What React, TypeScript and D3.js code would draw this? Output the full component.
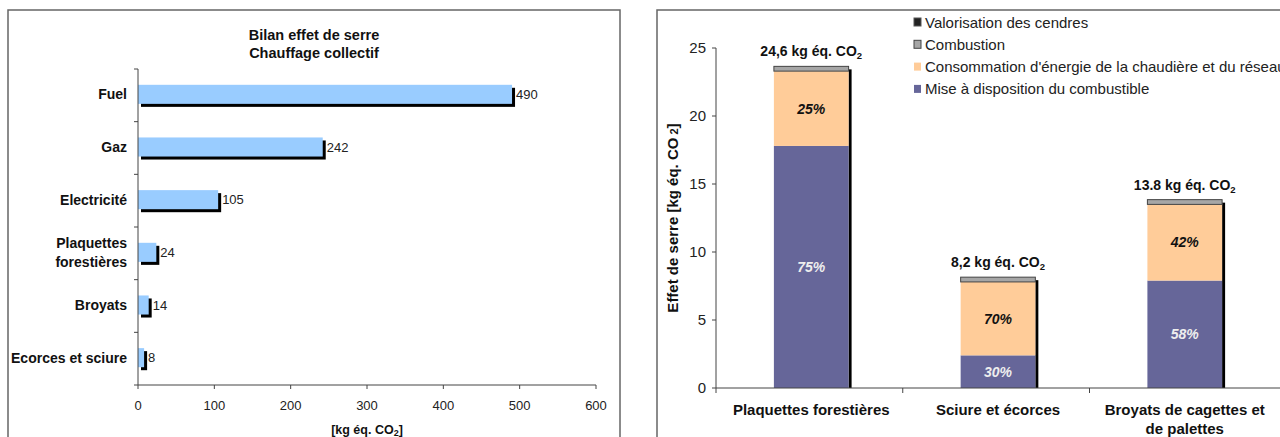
import React from "react";
import * as d3 from "d3";

// ---- Left chart data ----
const leftTitle = ["Bilan effet de serre", "Chauffage collectif"];
const leftCategories = ["Fuel", "Gaz", "Electricité", "Plaquettes forestières", "Broyats", "Ecorces et sciure"];
const leftValues = [490, 242, 105, 24, 14, 8];
const leftTicks = [0, 100, 200, 300, 400, 500, 600];

// ---- Right chart data ----
const rightCategories = ["Plaquettes forestières", "Sciure et écorces", "Broyats de cagettes et de palettes"];
const rightCategoryLines = [["Plaquettes forestières"], ["Sciure et écorces"], ["Broyats de cagettes et", "de palettes"]];
const miseValues = [17.8, 2.4, 7.9];
const consoValues = [5.5, 5.4, 5.6];
const combustionValues = [0.35, 0.35, 0.35];
const valorisationValues = [0, 0, 0];
const miseLabels = ["75%", "30%", "58%"];
const consoLabels = ["25%", "70%", "42%"];
const totalLabels = ["24,6", "8,2", "13.8"];
const rightTicks = [0, 5, 10, 15, 20, 25];
const seriesKeys = ["mise", "conso", "combustion", "valorisation"];
const legendItems = [
  { key: "valorisation", label: "Valorisation des cendres" },
  { key: "combustion", label: "Combustion" },
  { key: "conso", label: "Consommation d'énergie de la chaudière et du réseau" },
  { key: "mise", label: "Mise à disposition du combustible" },
];

const FONT = "'Liberation Sans', Arial, Helvetica, sans-serif";
const colors: Record<string, string> = {
  mise: "#666699",
  conso: "#ffcc99",
  combustion: "#a6a6a6",
  valorisation: "#222222",
};
const strokes: Record<string, string> = {
  mise: "none",
  conso: "none",
  combustion: "#444",
  valorisation: "#555",
};

function LeftChart() {
  const x = d3.scaleLinear().domain([0, 600]).range([138, 596]);
  const y = d3.scaleBand<string>().domain(leftCategories).range([69, 385]).paddingInner(0.6).paddingOuter(0.3);
  const bw = y.bandwidth();
  const step = y.step();
  const x0 = x(0);
  return (
    <g>
      <rect x={8} y={10} width={612} height={440} fill="white" stroke="#666" strokeWidth={1.5} />
      {leftTitle.map((t, i) => (
        <text key={t} x={314} y={40 + i * 17.5} textAnchor="middle" fontFamily={FONT} fontWeight="bold" fontSize={14.5} fill="#111">
          {t}
        </text>
      ))}
      {/* bars */}
      {leftCategories.map((c, i) => {
        const yy = y(c)!;
        const w = x(leftValues[i]) - x0;
        return (
          <g key={c}>
            <rect x={x0 + 3} y={yy + 3} width={w} height={bw - 2} fill="#000" />
            <rect x={x0} y={yy} width={w} height={bw - 2} fill="#99ccff" />
            <text x={x0 + w + 4} y={yy + (bw - 2) / 2 + 4.5} fontFamily={FONT} fontSize={13} fill="#222">
              {leftValues[i]}
            </text>
          </g>
        );
      })}
      {/* y axis */}
      <line x1={x0} x2={x0} y1={69} y2={385} stroke="#444" strokeWidth={1} />
      {d3.range(leftCategories.length + 1).map((i) => (
        <line key={i} x1={x0 - 4} x2={x0} y1={69 + i * step} y2={69 + i * step} stroke="#444" />
      ))}
      {leftCategories.map((c) => {
        const yc = y(c)! + (bw - 2) / 2;
        const words = c === "Plaquettes forestières" ? ["Plaquettes", "forestières"] : [c];
        return (
          <text key={c} x={127} textAnchor="end" fontFamily={FONT} fontWeight="bold" fontSize={14} fill="#111">
            {words.map((w, j) => (
              <tspan key={w} x={127} y={yc + 5 + (j - (words.length - 1) / 2) * 19}>
                {w}
              </tspan>
            ))}
          </text>
        );
      })}
      {/* x axis */}
      <line x1={x0} x2={596} y1={385} y2={385} stroke="#444" />
      {leftTicks.map((t) => (
        <g key={t}>
          <line x1={x(t)} x2={x(t)} y1={385} y2={389} stroke="#444" />
          <text x={x(t)} y={410} textAnchor="middle" fontFamily={FONT} fontSize={13} fill="#222">
            {t}
          </text>
        </g>
      ))}
      <text x={367} y={434} textAnchor="middle" fontFamily={FONT} fontWeight="bold" fontSize={12.5} fill="#111">
        [kg éq. CO<tspan fontSize={9} dy={2}>2</tspan>
        <tspan dy={-2}>]</tspan>
      </text>
    </g>
  );
}

function RightChart() {
  const x = d3.scaleBand<string>().domain(rightCategories).range([716, 1280]).paddingInner(0.6).paddingOuter(0.31);
  const y = d3.scaleLinear().domain([0, 25]).range([388, 48]);
  const bw = x.bandwidth();
  const rows = rightCategories.map((c, i) => ({
    cat: c,
    mise: miseValues[i],
    conso: consoValues[i],
    combustion: combustionValues[i],
    valorisation: valorisationValues[i],
  }));
  const stack = d3.stack<any>().keys(seriesKeys)(rows);
  const step = x.step();
  return (
    <g>
      <rect x={657} y={10} width={640} height={440} fill="white" stroke="#666" strokeWidth={1.5} />
      {/* shadows */}
      {rows.map((r, i) => {
        const top = d3.max(stack, (s) => s[i][1])!;
        const bx = x(r.cat)!;
        return <rect key={"sh" + i} x={bx + bw} y={y(top) + 3} width={3} height={y(0) - y(top) - 3} fill="#000" />;
      })}
      {stack.map((s) =>
        s.map((d, i) => {
          const h = y(d[0]) - y(d[1]);
          if (h <= 0.01) return null;
          return (
            <rect
              key={s.key + i}
              x={x(rows[i].cat)!}
              y={y(d[1])}
              width={bw}
              height={h}
              fill={colors[s.key]}
              stroke={strokes[s.key]}
              strokeWidth={strokes[s.key] === "none" ? 0 : 1}
            />
          );
        })
      )}
      {/* percent labels */}
      {rows.map((r, i) => {
        const cx = x(r.cat)! + bw / 2;
        const m = stack[0][i];
        const co = stack[1][i];
        return (
          <g key={"pl" + i} fontFamily={FONT} fontWeight="bold" fontStyle="italic" fontSize={14}>
            <text x={cx} y={(y(m[0]) + y(m[1])) / 2 + 5} textAnchor="middle" fill="#eeeeee">
              {miseLabels[i]}
            </text>
            <text x={cx} y={(y(co[0]) + y(co[1])) / 2 + 5} textAnchor="middle" fill="#111">
              {consoLabels[i]}
            </text>
          </g>
        );
      })}
      {/* total labels */}
      {rows.map((r, i) => {
        const top = d3.max(stack, (s) => s[i][1])!;
        const cx = x(r.cat)! + bw / 2;
        return (
          <text key={"tl" + i} x={cx} y={y(top) - 10} textAnchor="middle" fontFamily={FONT} fontWeight="bold" fontSize={14} fill="#111">
            {totalLabels[i]} kg éq. CO<tspan fontSize={9.5} dy={3}>2</tspan>
          </text>
        );
      })}
      {/* y axis */}
      <line x1={716} x2={716} y1={y(25)} y2={y(0)} stroke="#444" />
      {rightTicks.map((t) => (
        <g key={t}>
          <line x1={712} x2={716} y1={y(t)} y2={y(t)} stroke="#444" />
          <text x={706} y={y(t) + 5} textAnchor="end" fontFamily={FONT} fontSize={15} fill="#222">
            {t}
          </text>
        </g>
      ))}
      <text
        transform={`translate(678,${218}) rotate(-90)`}
        textAnchor="middle"
        fontFamily={FONT}
        fontWeight="bold"
        fontSize={15}
        fill="#111"
      >
        Effet de serre [kg éq. CO<tspan fontSize={11}> 2</tspan>]
      </text>
      {/* x axis */}
      <line x1={716} x2={1280} y1={388} y2={388} stroke="#444" />
      {rightCategories.map((c, i) => (
        <line key={"xt" + i} x1={716 + i * step} x2={716 + i * step} y1={388} y2={393} stroke="#444" />
      ))}
      {rightCategories.map((c, i) => {
        const cx = x(c)! + bw / 2;
        return (
          <text key={"xl" + i} textAnchor="middle" fontFamily={FONT} fontWeight="bold" fontSize={15} fill="#111">
            {rightCategoryLines[i].map((l, j) => (
              <tspan key={l} x={cx} y={415 + j * 19}>
                {l}
              </tspan>
            ))}
          </text>
        );
      })}
      {/* legend */}
      {legendItems.map((it, i) => (
        <g key={it.key}>
          <rect
            x={914}
            y={18 + i * 22.3}
            width={7}
            height={8}
            fill={colors[it.key]}
            stroke={strokes[it.key]}
            strokeWidth={strokes[it.key] === "none" ? 0 : 1}
          />
          <text x={925} y={27.5 + i * 22.3} fontFamily={FONT} fontSize={15} fill="#222">
            {it.label}
          </text>
        </g>
      ))}
    </g>
  );
}

export default function App() {
  return (
    <svg width={1280} height={437} style={{ position: "absolute", left: 0, top: 0, background: "white" }}>
      <rect x={0} y={0} width={1280} height={437} fill="white" />
      <LeftChart />
      <RightChart />
    </svg>
  );
}
